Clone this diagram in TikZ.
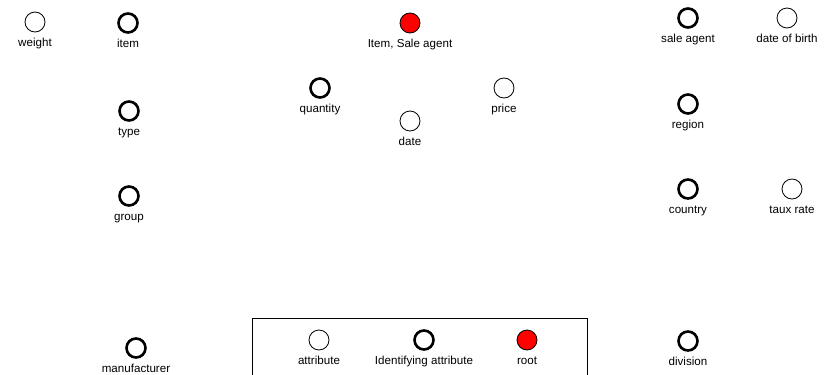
\documentclass[tikz,border=0pt]{standalone}
\usepackage{fontspec}
\setmainfont{Liberation Sans}
\tikzset{
  lbl/.style={inner sep=0pt, outer sep=0pt, text height=8.5pt, text depth=2.5pt, label distance=6pt, font=\fontsize{11.6}{14}\selectfont},
  attr/.style={circle, draw, line width=0.8pt, minimum size=20pt, inner sep=0pt, outer sep=0pt, label={[lbl]below:{#1}}},
  idattr/.style={attr={#1}, line width=2.6pt, minimum size=19pt},
  rootattr/.style={attr={#1}, fill=red}
}
\begin{document}
\begin{tikzpicture}[x=1pt, y=-1pt]
        \useasboundingbox (0,0) rectangle (831,375);
        % item dimension
        \node[attr=weight] (weight) at (35,22) {};
        \node[idattr=item] (item) at (128,23) {};
        \node[idattr=type] (type) at (129,111) {};
        \node[idattr=group] (group) at (129,196) {};
        \node[idattr=manufacturer] (manufacturer) at (136,348) {};
        % fact
        \node[rootattr={Item, Sale agent}] (fact) at (410,23) {};
        \node[idattr=quantity] (quantity) at (320,88) {};
        \node[attr=price] (price) at (504,88) {};
        \node[attr=date] (date) at (410,121) {};
        % sale agent dimension
        \node[idattr={sale agent}] (agent) at (688,18) {};
        \node[attr={date of birth}] (birth) at (787,18) {};
        \node[idattr=region] (region) at (688,104) {};
        \node[idattr=country] (country) at (688,189) {};
        \node[attr={taux rate}] (taux) at (792,189) {};
        \node[idattr=division] (division) at (688,341) {};
        % legend
        \begin{scope}
          \clip (0,0) rectangle (831,375);
          \draw[line width=1pt] (252,318) rectangle (587,390);
        \end{scope}
        \node[attr=attribute] (legattr) at (319,340) {};
        \node[idattr={Identifying attribute}] (legid) at (424,340) {};
        \node[rootattr=root] (legroot) at (527,340) {};
\end{tikzpicture}
\end{document}
